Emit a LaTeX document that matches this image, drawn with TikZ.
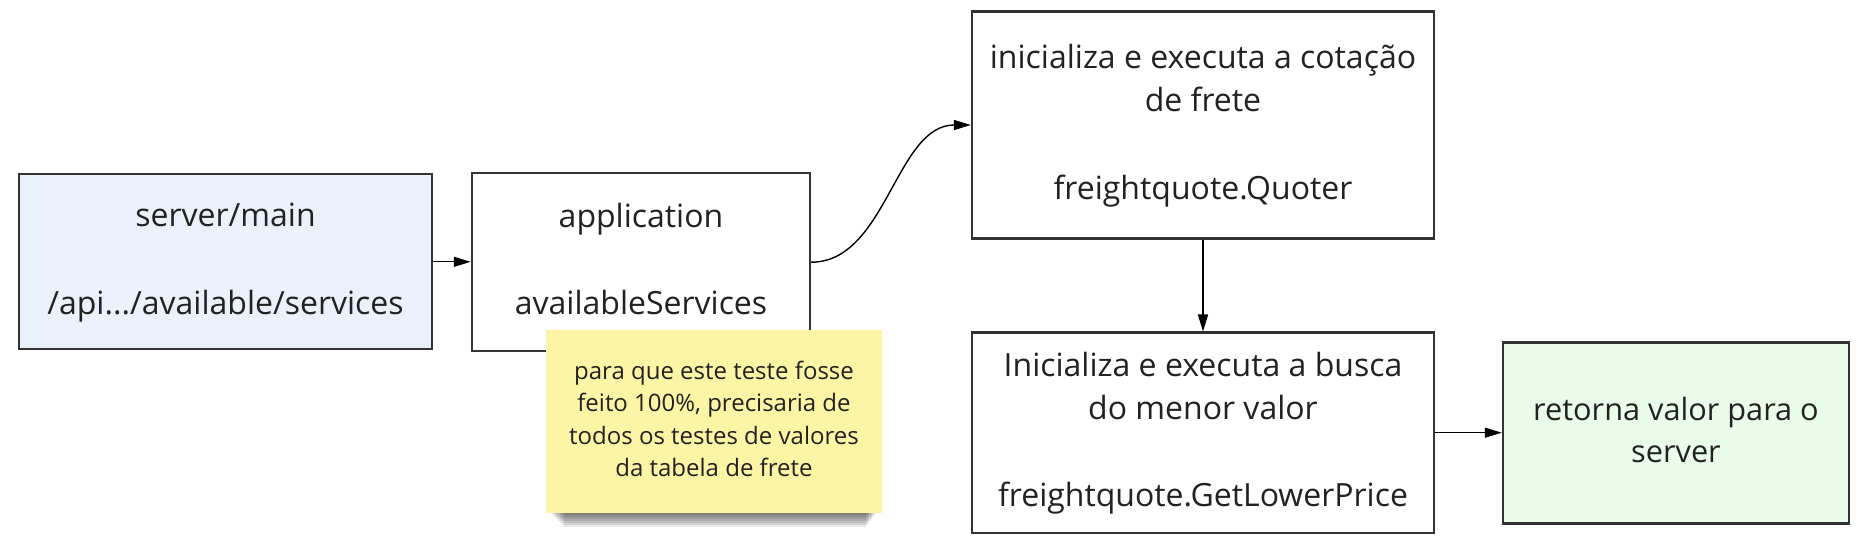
\documentclass[tikz,border=0pt]{standalone}
\usepackage{fontspec}
\setmainfont{Open Sans}
\usetikzlibrary{arrows.meta}
\definecolor{bordc}{HTML}{333333}
\definecolor{txtc}{HTML}{222222}
\definecolor{bluef}{HTML}{EBF1FA}
\definecolor{greenf}{HTML}{E9FCE9}
\definecolor{stickyf}{HTML}{FDF5A6}
\tikzset{
  procbox/.style={draw=bordc, line width=2.4pt, rectangle, inner sep=0pt, align=center,
    text=txtc, font=\fontsize{32}{43.6}\selectfont},
  notebox/.style={rectangle, fill=stickyf, inner sep=0pt, align=center, text=txtc,
    font=\fontsize{24}{32.4}\selectfont},
  arr/.style={draw=black, line width=1.4pt, -{Triangle[length=17pt,width=10pt]}}
}
\begin{document}
\begin{tikzpicture}[x=1pt,y=-1pt]
\useasboundingbox (0,0) rectangle (1861,537);
\fill[white] (0,0) rectangle (1861,537);

\node[procbox, fill=bluef, minimum width=413pt, minimum height=175pt] (b1) at (225.5,261.8)
  {\strut server/main\\\strut\\\strut /api.../available/services};
\node[procbox, fill=white, minimum width=338pt, minimum height=178pt] (b2) at (641,262.2)
  {\strut application\\\strut\\\strut availableServices};
\node[procbox, fill=white, minimum width=462pt, minimum height=227pt] (b3) at (1203,125)
  {\strut inicializa e executa a cotação\\\strut de frete\\\strut\\\strut freightquote.Quoter};
\node[procbox, fill=white, minimum width=462pt, minimum height=200pt] (b4) at (1203,432.7)
  {\strut Inicializa e executa a busca\\\strut do menor valor\\\strut\\\strut freightquote.GetLowerPrice};
\node[procbox, fill=greenf, minimum width=346pt, minimum height=181pt,
  font=\fontsize{30.7}{42.5}\selectfont] (b5) at (1676,433)
  {\strut retorna valor para o\\\strut server};

% sticky note shadow
\foreach \i in {1,...,8}{
  \fill[black, opacity=0.09] (548+\i*2,334) rectangle (878-\i*1.5,511+\i*2);
}
\node[notebox, minimum width=336pt, minimum height=183pt] (note) at (714,421.5)
  {\strut para que este teste fosse\\\strut feito 100\%, precisaria de\\\strut todos os testes de valores\\\strut da tabela de frete};

\draw[arr] (b1.east) -- (b1.east -| b2.west);
\draw[arr] (b2.east) .. controls +(75,0) and +(-75,0) .. (b3.west);
\draw[arr] (b3.south) -- (b4.north);
\draw[arr] (b4.east) -- (b4.east -| b5.west);
\end{tikzpicture}
\end{document}
